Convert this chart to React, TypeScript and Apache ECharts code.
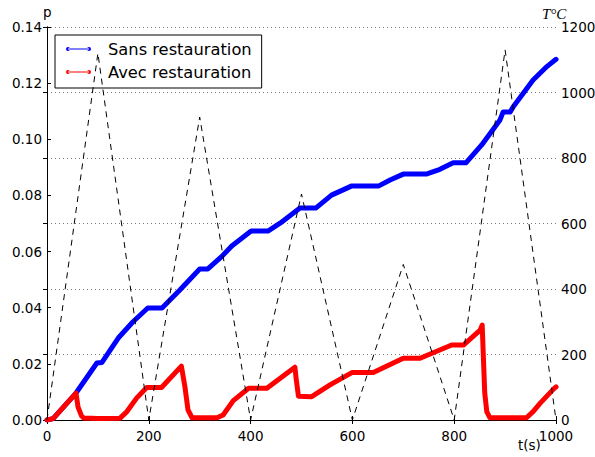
import React, { useEffect, useRef } from "react";
import * as echarts from "echarts";

// Temperature (right axis, °C)
const tempTimes = [0, 100, 200, 300, 400, 500, 600, 700, 800, 900, 1000];
const tempValues = [0, 1120, 0, 925, 0, 690, 0, 475, 0, 1130, 0];

// "Sans restauration" (left axis, p)
const sansTimes = [0, 12, 57, 98, 108, 140, 169, 198, 226, 261, 300, 316, 343, 363, 401, 434, 458, 497, 528, 559, 599, 652, 674, 700, 745, 772, 798, 823, 854, 890, 896, 910, 916, 955, 982, 1000];
const sansValues = [0, 0.0005, 0.0096, 0.0203, 0.0205, 0.0292, 0.035, 0.0399, 0.0399, 0.0463, 0.0538, 0.0538, 0.0582, 0.062, 0.0673, 0.0673, 0.0701, 0.0755, 0.0755, 0.0801, 0.0834, 0.0834, 0.0855, 0.0876, 0.0876, 0.0893, 0.0916, 0.0916, 0.098, 0.1069, 0.1097, 0.1097, 0.1116, 0.1211, 0.1259, 0.1285];

// "Avec restauration" (left axis, p)
const avecTimes = [0, 12, 57, 61, 68, 72, 100, 143, 157, 176, 196, 225, 264, 271, 277, 285, 334, 346, 366, 396, 432, 487, 490, 494, 520, 556, 599, 641, 700, 733, 795, 818, 851, 855, 857, 860, 864, 870, 942, 955, 969, 995, 1000];
const avecValues = [0, 0.0005, 0.0096, 0.0046, 0.0014, 0.0007, 0.0005, 0.0006, 0.003, 0.0078, 0.0116, 0.0116, 0.0192, 0.0118, 0.0036, 0.0008, 0.0008, 0.0018, 0.0069, 0.0113, 0.0113, 0.0188, 0.014, 0.0085, 0.0083, 0.0125, 0.0169, 0.0169, 0.022, 0.022, 0.0267, 0.0267, 0.032, 0.0338, 0.024, 0.0096, 0.003, 0.0008, 0.0008, 0.003, 0.006, 0.011, 0.0118];

const seriesNames = ["Sans restauration", "Avec restauration"];

const zip = (xs: number[], ys: number[]) => xs.map((x, i) => [x, ys[i]]);

const FONT = "DejaVu Sans";
const legendIcon =
  "path://M0,2a2,2 0 1,0 4,0a2,2 0 1,0 -4,0zM21,2a2,2 0 1,0 4,0a2,2 0 1,0 -4,0zM2,1.5L23,1.5L23,2.5L2,2.5z";

export default function App() {
  const ref = useRef<HTMLDivElement>(null);
  useEffect(() => {
    if (!ref.current) return;
    const chart = echarts.init(ref.current, undefined, { renderer: "svg" });
    const axisLine = { show: true, lineStyle: { color: "#000", width: 1 } };
    const tick = { show: true, inside: true, length: 4, lineStyle: { color: "#000", width: 1 } };
    const label = { color: "#000", fontFamily: FONT, fontSize: 13.5 };
    const plain = (v: number) => String(Math.round(v));
    chart.setOption({
      animation: false,
      backgroundColor: "#fff",
      grid: { left: 47, right: 39, top: 27, bottom: 37, containLabel: false, outerBoundsMode: "none" },
      xAxis: [
        {
          type: "value", min: 0, max: 1000, interval: 200, position: "bottom",
          axisLine, axisTick: tick, splitLine: { show: false },
          axisLabel: { ...label, margin: 9, formatter: plain },
        },
        {
          type: "value", min: 0, max: 1000, interval: 200, position: "top",
          axisLine, axisTick: tick, splitLine: { show: false }, axisLabel: { show: false },
        },
      ],
      yAxis: [
        {
          type: "value", min: 0, max: 0.14, interval: 0.02, position: "left",
          axisLine, axisTick: tick, splitLine: { show: false },
          axisLabel: { ...label, margin: 5, formatter: (v: number) => v.toFixed(2) },
        },
        {
          type: "value", min: 0, max: 1200, interval: 200, position: "right",
          axisLine, axisTick: tick,
          splitLine: { show: true, lineStyle: { color: "#777", width: 1, type: [1, 3] } },
          axisLabel: { ...label, margin: 5, formatter: plain },
        },
      ],
      legend: {
        orient: "vertical", left: 55, top: 35, z: 4,
        data: seriesNames, icon: legendIcon, itemWidth: 25, itemHeight: 4, itemGap: 3,
        padding: [4, 10, 6, 11],
        borderColor: "#000", borderWidth: 1, backgroundColor: "#fff", borderRadius: 0,
        textStyle: { fontFamily: FONT, fontSize: 16.3, color: "#000", lineHeight: 20, padding: [0, 0, 0, 12] },
      },
      graphic: [
        { type: "text", left: 43, top: 5, style: { text: "p", fontFamily: FONT, fontSize: 13.5, fill: "#000" } },
        { type: "text", left: 542, top: 6, style: { text: "T°C", fontFamily: "Liberation Serif", fontStyle: "italic", fontSize: 15, fill: "#000" } },
        { type: "text", left: 518, top: 438, style: { text: "t(s)", fontFamily: FONT, fontSize: 13.5, fill: "#000" } },
      ],
      series: [
        {
          name: seriesNames[0], type: "line", xAxisIndex: 0, yAxisIndex: 0, z: 2,
          data: zip(sansTimes, sansValues), showSymbol: false, symbol: "none",
          itemStyle: { color: "#0000ff" },
          lineStyle: { color: "#0000ff", width: 5, cap: "round", join: "round" },
        },
        {
          name: seriesNames[1], type: "line", xAxisIndex: 0, yAxisIndex: 0, z: 3,
          data: zip(avecTimes, avecValues), showSymbol: false, symbol: "none",
          itemStyle: { color: "#ff0000" },
          lineStyle: { color: "#ff0000", width: 5, cap: "round", join: "round" },
        },
        {
          name: "T", type: "line", xAxisIndex: 0, yAxisIndex: 1, z: 5,
          data: zip(tempTimes, tempValues), showSymbol: false, symbol: "none",
          itemStyle: { color: "#000" },
          lineStyle: { color: "#000", width: 1, type: [6, 5] },
        },
      ],
    });
    return () => chart.dispose();
  }, []);
  return <div ref={ref} style={{ position: "absolute", left: 0, top: 0, width: 595, height: 457 }} />;
}
